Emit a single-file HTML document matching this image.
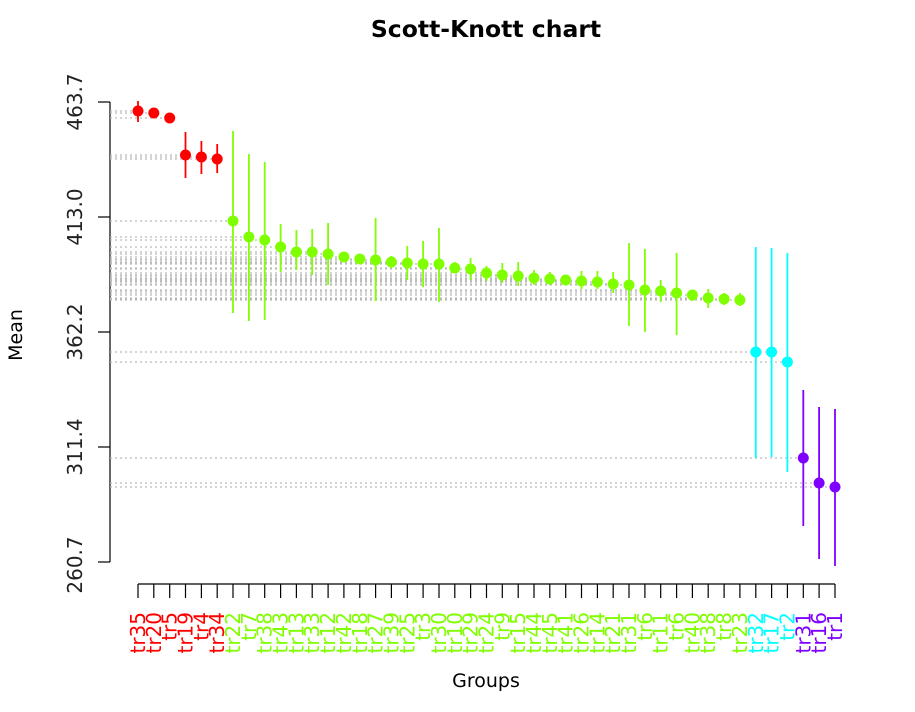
<!DOCTYPE html>
<html><head><meta charset="utf-8"><style>body{margin:0;background:#fff}svg{display:block}</style></head>
<body>
<svg width="915" height="712" xmlns="http://www.w3.org/2000/svg" font-family="DejaVu Sans, Liberation Sans, sans-serif">
<rect width="915" height="712" fill="#fff"/>
<text x="486" y="37" font-size="23.5" font-weight="bold" text-anchor="middle">Scott-Knott chart</text>
<text x="0" y="0" font-size="19" text-anchor="middle" transform="translate(22,335) rotate(-90)">Mean</text>
<text x="486" y="687" font-size="19" text-anchor="middle">Groups</text>
<g stroke="#000" stroke-width="1.2">
<line x1="110" y1="102" x2="110" y2="562"/>
<line x1="98" y1="102" x2="110" y2="102"/><line x1="98" y1="217" x2="110" y2="217"/><line x1="98" y1="332" x2="110" y2="332"/><line x1="98" y1="447" x2="110" y2="447"/><line x1="98" y1="562" x2="110" y2="562"/>
</g>
<g font-size="20" text-anchor="middle" fill="#222">
<text transform="translate(82,102) rotate(-90)">463.7</text>
<text transform="translate(82,217) rotate(-90)">413.0</text>
<text transform="translate(82,332) rotate(-90)">362.2</text>
<text transform="translate(82,447) rotate(-90)">311.4</text>
<text transform="translate(82,565) rotate(-90)">260.7</text>
</g>
<g stroke="#000" stroke-width="1.2">
<line x1="138" y1="584" x2="835" y2="584"/>
<path d="M138 584v14M153.8 584v14M169.7 584v14M185.5 584v14M201.4 584v14M217.2 584v14M233 584v14M248.9 584v14M264.7 584v14M280.6 584v14M296.4 584v14M312.2 584v14M328.1 584v14M343.9 584v14M359.8 584v14M375.6 584v14M391.4 584v14M407.3 584v14M423.1 584v14M439 584v14M454.8 584v14M470.6 584v14M486.5 584v14M502.3 584v14M518.2 584v14M534 584v14M549.8 584v14M565.7 584v14M581.5 584v14M597.4 584v14M613.2 584v14M629 584v14M644.9 584v14M660.7 584v14M676.6 584v14M692.4 584v14M708.2 584v14M724.1 584v14M739.9 584v14M755.8 584v14M771.6 584v14M787.4 584v14M803.3 584v14M819.1 584v14M835 584v14"/>
</g>
<g stroke="#bbb" stroke-width="1.2" stroke-dasharray="2,3">
<path d="M110 111H138M110 113H153.8M110 118H169.7M110 155H185.5M110 157H201.4M110 159H217.2M110 221H233M110 237H248.9M110 240H264.7M110 247H280.6M110 252H296.4M110 252H312.2M110 254H328.1M110 257H343.9M110 259H359.8M110 260H375.6M110 262H391.4M110 263H407.3M110 264H423.1M110 264H439M110 268H454.8M110 269H470.6M110 273H486.5M110 275H502.3M110 276H518.2M110 278H534M110 279H549.8M110 280H565.7M110 281H581.5M110 282H597.4M110 284H613.2M110 285H629M110 290H644.9M110 291H660.7M110 293H676.6M110 295H692.4M110 298H708.2M110 299H724.1M110 300H739.9M110 352H755.8M110 352H771.6M110 362H787.4M110 458H803.3M110 483H819.1M110 487H835"/>
</g>
<g stroke-width="1.8">
<path stroke="#ff0000" d="M138 101V122M153.8 108V117M169.7 114V122M185.5 132V178M201.4 141V174M217.2 144V173"/>
<path stroke="#80ff00" d="M233 131V313M248.9 154V321M264.7 162V320M280.6 224V272M296.4 230V270M312.2 229V275M328.1 223V285M343.9 253V262M359.8 254V263M375.6 218V301M391.4 256V268M407.3 246V280M423.1 241V287M439 228V302M454.8 262V273M470.6 258V280M486.5 266V281M502.3 263V283M518.2 262V286M534 270V285M549.8 272V285M565.7 275V285M581.5 271V289M597.4 271V289M613.2 272V293M629 243V326M644.9 249V332M660.7 280V302M676.6 253V335M692.4 290V301M708.2 289V308M724.1 293V305M739.9 293V306"/>
<path stroke="#00ffff" d="M755.8 247V458M771.6 248V457M787.4 253V472"/>
<path stroke="#8000ff" d="M803.3 390V526M819.1 407V559M835 409V566"/>
</g>
<g fill="#ff0000">
<circle cx="138" cy="111" r="5.5"/><circle cx="153.8" cy="113" r="5.5"/><circle cx="169.7" cy="118" r="5.5"/><circle cx="185.5" cy="155" r="5.5"/><circle cx="201.4" cy="157" r="5.5"/><circle cx="217.2" cy="159" r="5.5"/>
</g>
<g fill="#80ff00">
<circle cx="233" cy="221" r="5.5"/><circle cx="248.9" cy="237" r="5.5"/><circle cx="264.7" cy="240" r="5.5"/><circle cx="280.6" cy="247" r="5.5"/><circle cx="296.4" cy="252" r="5.5"/><circle cx="312.2" cy="252" r="5.5"/><circle cx="328.1" cy="254" r="5.5"/><circle cx="343.9" cy="257" r="5.5"/><circle cx="359.8" cy="259" r="5.5"/><circle cx="375.6" cy="260" r="5.5"/><circle cx="391.4" cy="262" r="5.5"/><circle cx="407.3" cy="263" r="5.5"/><circle cx="423.1" cy="264" r="5.5"/><circle cx="439" cy="264" r="5.5"/><circle cx="454.8" cy="268" r="5.5"/><circle cx="470.6" cy="269" r="5.5"/><circle cx="486.5" cy="273" r="5.5"/><circle cx="502.3" cy="275" r="5.5"/><circle cx="518.2" cy="276" r="5.5"/><circle cx="534" cy="278" r="5.5"/><circle cx="549.8" cy="279" r="5.5"/><circle cx="565.7" cy="280" r="5.5"/><circle cx="581.5" cy="281" r="5.5"/><circle cx="597.4" cy="282" r="5.5"/><circle cx="613.2" cy="284" r="5.5"/><circle cx="629" cy="285" r="5.5"/><circle cx="644.9" cy="290" r="5.5"/><circle cx="660.7" cy="291" r="5.5"/><circle cx="676.6" cy="293" r="5.5"/><circle cx="692.4" cy="295" r="5.5"/><circle cx="708.2" cy="298" r="5.5"/><circle cx="724.1" cy="299" r="5.5"/><circle cx="739.9" cy="300" r="5.5"/>
</g>
<g fill="#00ffff">
<circle cx="755.8" cy="352" r="5.5"/><circle cx="771.6" cy="352" r="5.5"/><circle cx="787.4" cy="362" r="5.5"/>
</g>
<g fill="#8000ff">
<circle cx="803.3" cy="458" r="5.5"/><circle cx="819.1" cy="483" r="5.5"/><circle cx="835" cy="487" r="5.5"/>
</g>
<g font-size="20" text-anchor="end">
<g fill="#ff0000">
<text transform="translate(145,612) rotate(-90)">tr35</text>
<text transform="translate(160.8,612) rotate(-90)">tr20</text>
<text transform="translate(176.7,612) rotate(-90)">tr5</text>
<text transform="translate(192.5,612) rotate(-90)">tr19</text>
<text transform="translate(208.4,612) rotate(-90)">tr4</text>
<text transform="translate(224.2,612) rotate(-90)">tr34</text>
</g>
<g fill="#80ff00">
<text transform="translate(240,612) rotate(-90)">tr22</text>
<text transform="translate(255.9,612) rotate(-90)">tr7</text>
<text transform="translate(271.7,612) rotate(-90)">tr38</text>
<text transform="translate(287.6,612) rotate(-90)">tr43</text>
<text transform="translate(303.4,612) rotate(-90)">tr13</text>
<text transform="translate(319.2,612) rotate(-90)">tr33</text>
<text transform="translate(335.1,612) rotate(-90)">tr12</text>
<text transform="translate(350.9,612) rotate(-90)">tr42</text>
<text transform="translate(366.8,612) rotate(-90)">tr18</text>
<text transform="translate(382.6,612) rotate(-90)">tr27</text>
<text transform="translate(398.4,612) rotate(-90)">tr39</text>
<text transform="translate(414.3,612) rotate(-90)">tr25</text>
<text transform="translate(430.1,612) rotate(-90)">tr3</text>
<text transform="translate(446,612) rotate(-90)">tr30</text>
<text transform="translate(461.8,612) rotate(-90)">tr10</text>
<text transform="translate(477.6,612) rotate(-90)">tr29</text>
<text transform="translate(493.5,612) rotate(-90)">tr24</text>
<text transform="translate(509.3,612) rotate(-90)">tr9</text>
<text transform="translate(525.2,612) rotate(-90)">tr15</text>
<text transform="translate(541,612) rotate(-90)">tr44</text>
<text transform="translate(556.8,612) rotate(-90)">tr45</text>
<text transform="translate(572.7,612) rotate(-90)">tr41</text>
<text transform="translate(588.5,612) rotate(-90)">tr26</text>
<text transform="translate(604.4,612) rotate(-90)">tr14</text>
<text transform="translate(620.2,612) rotate(-90)">tr21</text>
<text transform="translate(636,612) rotate(-90)">tr31</text>
<text transform="translate(651.9,612) rotate(-90)">tr6</text>
<text transform="translate(667.7,612) rotate(-90)">tr11</text>
<text transform="translate(683.6,612) rotate(-90)">tr6</text>
<text transform="translate(699.4,612) rotate(-90)">tr40</text>
<text transform="translate(715.2,612) rotate(-90)">tr38</text>
<text transform="translate(731.1,612) rotate(-90)">tr8</text>
<text transform="translate(746.9,612) rotate(-90)">tr23</text>
</g>
<g fill="#00ffff">
<text transform="translate(762.8,612) rotate(-90)">tr32</text>
<text transform="translate(778.6,612) rotate(-90)">tr17</text>
<text transform="translate(794.4,612) rotate(-90)">tr2</text>
</g>
<g fill="#8000ff">
<text transform="translate(810.3,612) rotate(-90)">tr31</text>
<text transform="translate(826.1,612) rotate(-90)">tr16</text>
<text transform="translate(842,612) rotate(-90)">tr1</text>
</g>
</g>
</svg>
</body></html>
